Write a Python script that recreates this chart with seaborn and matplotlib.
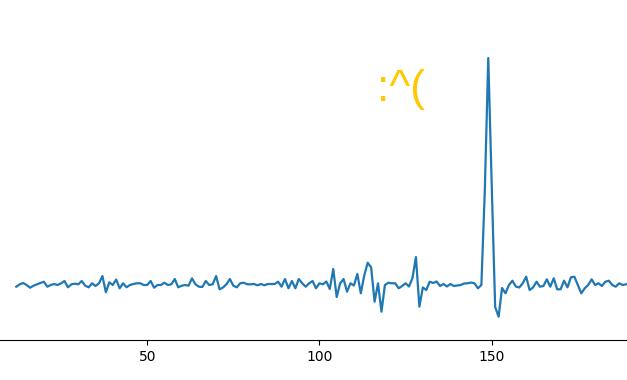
import numpy as np
import pandas as pd
import matplotlib
matplotlib.use("Agg")
import matplotlib.pyplot as plt
import seaborn as sns

x_values = list(range(12, 191))
y_values = [
    53.3, 55.7, 57, 55, 52.3, 54.3, 55.7, 57, 58.3, 53.3,
    55, 56, 55, 56.7, 59, 52.7, 55.7, 56.3, 55.7, 59,
    54.3, 52.7, 56.7, 54, 56.7, 64, 47.7, 57.7, 55, 60.5,
    51.7, 56.7, 52.7, 55, 56, 56.7, 56.7, 55, 55, 59,
    52.3, 55, 55, 57.3, 55, 55.7, 61, 52.7, 54.3, 55,
    54.3, 61.7, 55.7, 53.3, 53, 59, 55, 55.7, 64, 50.7,
    52.5, 55.7, 61, 54.3, 52.7, 56.7, 57.3, 55.7, 55.7, 56,
    54.7, 56, 54.7, 56, 56, 56, 58.3, 53.3, 61, 51.7,
    59, 51.7, 61, 56.7, 53.3, 56.7, 59, 51.7, 56.7, 55.7,
    58.5, 51, 71, 43, 56.7, 61, 48.3, 56.7, 54.5, 66,
    46.7, 64.5, 77.3, 72.5, 38.3, 56.7, 28.3, 55, 57.3, 56.7,
    56.7, 51.7, 54, 56.7, 53.5, 62, 83, 33.3, 52.5, 50,
    58.3, 57, 58.5, 54, 56, 53.5, 56, 54, 54.5, 55,
    56.5, 56.7, 57.5, 56.7, 51.7, 55, 150, 282, 155, 33,
    23.3, 52, 46.7, 55, 59.3, 53.5, 52.5, 56.7, 63.3, 50,
    52.5, 58.3, 53.3, 54, 60.7, 53.3, 61.7, 50.7, 50.7, 59.3,
    52.7, 62.7, 63.3, 55, 46.7, 51.7, 55, 60.7, 55, 56.7,
    54, 58.3, 59.3, 55, 53.3, 56.7, 55, 55.7, 56.5,
]
x_ticks = [50, 100, 150]
annotation_text = ":^("

df = pd.DataFrame({"x": x_values, "y": y_values})

fig = plt.figure(figsize=(6.27, 3.8), dpi=100)
ax = fig.add_axes([0, 40 / 380, 1, 340 / 380])
sns.lineplot(data=df, x="x", y="y", ax=ax, color="#1f77b4", linewidth=1.6)

ax.set_xlim(7.27, 189.27)
ax.set_ylim(0, 340)
ax.set_xticks(x_ticks)
ax.set_xticklabels([str(t) for t in x_ticks], fontsize=10)
ax.set_yticks([])
ax.set_xlabel("")
ax.set_ylabel("")
for s in ["top", "right", "left"]:
    ax.spines[s].set_visible(False)
ax.tick_params(axis="x", length=3.5, width=0.8)

ax.text(116.8, 239, annotation_text, color="#FFC800", fontsize=32,
        family=["Liberation Sans", "DejaVu Sans"], ha="left", va="baseline")

fig.savefig("out.png", dpi=100)
